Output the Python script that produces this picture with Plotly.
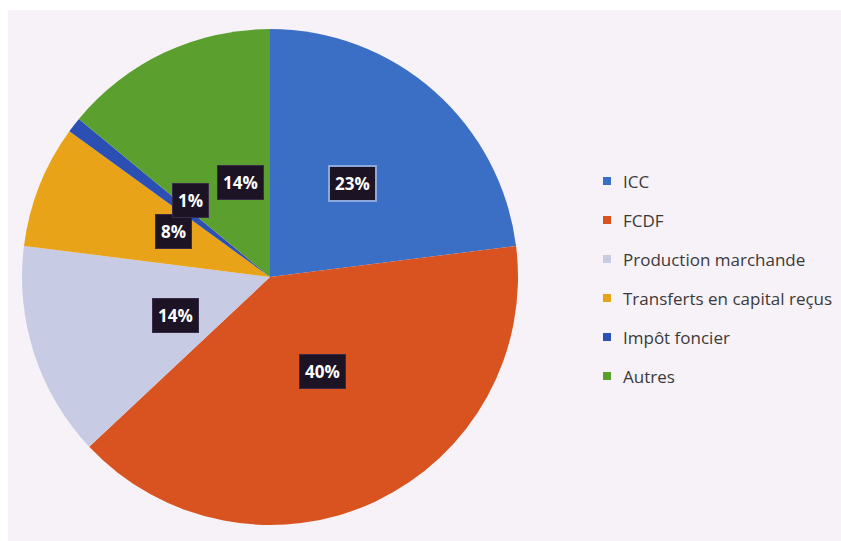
import math
import plotly.graph_objects as go

labels = ["ICC", "FCDF", "Production marchande", "Transferts en capital reçus", "Impôt foncier", "Autres"]
values = [23, 40, 14, 8, 1, 14]
colors = ["#3b6fc6", "#d8531f", "#c8cbe4", "#e9a318", "#2b4fb3", "#5b9f2e"]

W, H = 841, 541
cx, cy, R = 270, 277, 248

fig = go.Figure(go.Pie(
    labels=labels, values=values, sort=False, direction="clockwise", rotation=0,
    marker=dict(colors=colors, line=dict(width=0)),
    textinfo="none", hoverinfo="label+percent", showlegend=False,
    domain=dict(x=[(cx - R) / W, (cx + R) / W], y=[1 - (cy + R) / H, 1 - (cy - R) / H]),
))

annotations = []
total = sum(values)
cum = 0
for i, v in enumerate(values):
    mid = (cum + v / 2) / total * 2 * math.pi
    cum += v
    px = cx + 0.5 * R * math.sin(mid)
    py = cy - 0.5 * R * math.cos(mid)
    annotations.append(dict(
        x=px / W, y=1 - py / H, xref="paper", yref="paper", showarrow=False,
        text="<b>%d%%</b>" % round(100 * v / total),
        font=dict(family="Open Sans, DejaVu Sans, sans-serif", size=17, color="white"),
        bgcolor="#1c1324", bordercolor="#8fa8dc" if i == 0 else "#3a2a4a",
        borderwidth=2 if i == 0 else 1, borderpad=5,
    ))

shapes = [dict(type="rect", xref="paper", yref="paper", x0=8 / W, x1=1, y0=0, y1=1 - 10 / H,
               fillcolor="#f7f2f7", line=dict(width=0), layer="below")]

lx, ly0, dy = 607, 181, 39
for i, (lab, col) in enumerate(zip(labels, colors)):
    y = ly0 + i * dy
    shapes.append(dict(type="rect", xref="paper", yref="paper",
                       x0=(lx - 4) / W, x1=(lx + 4) / W, y0=1 - (y + 4) / H, y1=1 - (y - 4) / H,
                       fillcolor=col, line=dict(width=0)))
    annotations.append(dict(
        x=(lx + 14) / W, y=1 - y / H, xref="paper", yref="paper", xanchor="left", yanchor="middle",
        showarrow=False, text=lab,
        font=dict(family="Open Sans, DejaVu Sans, sans-serif", size=17, color="#3a3a3a"),
    ))

fig.update_layout(
    width=W, height=H, margin=dict(l=0, r=0, t=0, b=0),
    paper_bgcolor="white", plot_bgcolor="white",
    shapes=shapes, annotations=annotations,
)

fig.write_html("out.html", config={"displayModeBar": False},
               post_script="document.body.style.margin='0';document.body.style.overflow='hidden';")
